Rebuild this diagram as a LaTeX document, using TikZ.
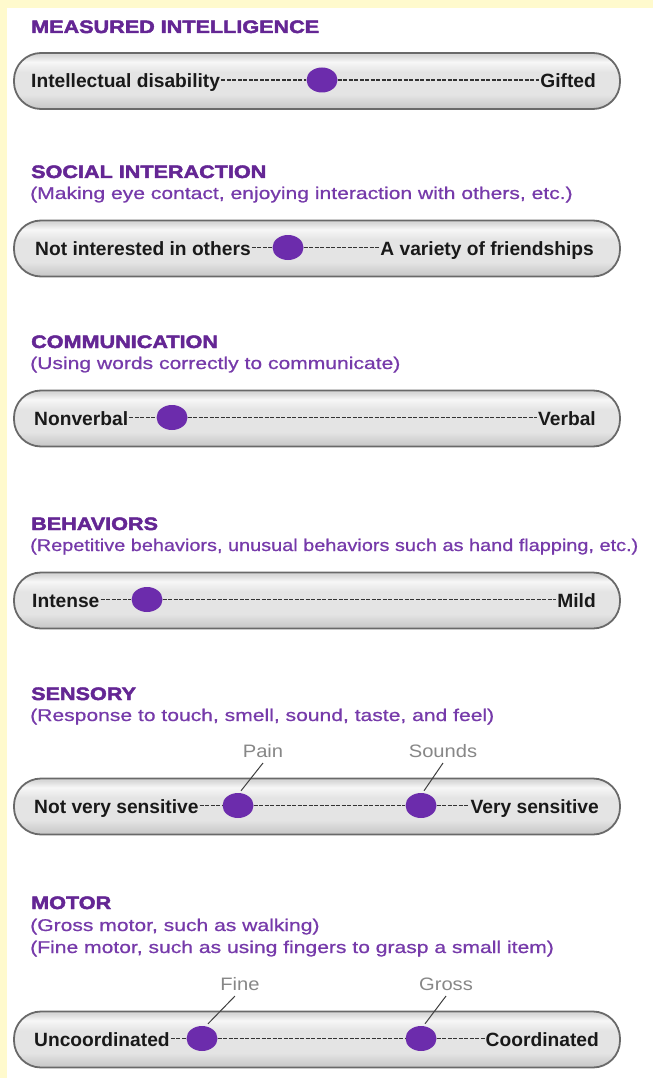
\documentclass[tikz,border=0pt]{standalone}
\usepackage{fontspec}
\setmainfont{Liberation Sans}
\newfontfamily\headfont{Liberation Sans}[FakeStretch=1.2,BoldFeatures={FakeBold=2.5}]
\newfontfamily\subfont{Liberation Sans}[FakeStretch=1.24,FakeBold=0.8]
\newfontfamily\subfontnarrow{Liberation Sans}[FakeStretch=1.17,FakeBold=0.8]
\newfontfamily\tagfont{Liberation Sans}[FakeStretch=1.12]
\usetikzlibrary{shapes.geometric}

\definecolor{bgyellow}{RGB}{255,250,205}
\definecolor{titlepurple}{RGB}{100,38,148}
\definecolor{subpurple}{RGB}{118,58,170}
\definecolor{knobpurple}{RGB}{108,44,172}
\definecolor{pillline}{RGB}{105,105,105}
\definecolor{pillD}{RGB}{202,202,202}
\definecolor{pillM}{RGB}{228,228,228}
\definecolor{pillH}{RGB}{247,247,247}
\definecolor{pillT}{RGB}{216,216,216}
\definecolor{taggray}{RGB}{135,135,135}
\definecolor{labelblack}{RGB}{25,25,25}

% glossy fill of the scale bars (positions measured from the bottom)
\pgfdeclareverticalshading{pillshade}{100bp}{%
  color(0bp)=(pillD); color(27bp)=(pillD); color(38bp)=(pillM);
  color(58bp)=(pillM); color(67bp)=(pillH); color(73bp)=(pillT); color(100bp)=(pillT)}

\tikzset{
  pill/.style={draw=pillline, line width=1.8pt, rounded corners=27pt, shading=pillshade,
    minimum width=606pt, minimum height=56pt, inner sep=0pt},
  title/.style={anchor=base west, inner sep=0pt, text=titlepurple,
    font=\headfont\bfseries\fontsize{18}{20}\selectfont},
  sub/.style={anchor=base west, inner sep=0pt, text=subpurple,
    font=\subfont\fontsize{17}{20}\selectfont},
  subnarrow/.style={sub, font=\subfontnarrow\fontsize{17}{20}\selectfont},
  lab/.style={inner sep=1pt, text=labelblack, font=\bfseries\fontsize{19.2}{22}\selectfont},
  leftlab/.style={lab, anchor=base west},
  rightlab/.style={lab, anchor=base east},
  knob/.style={ellipse, fill=knobpurple, minimum width=31pt, minimum height=25pt, inner sep=0pt},
  track/.style={draw=black!80, line width=1.3pt, dash pattern=on 4pt off 1.5pt},
  tag/.style={anchor=base, inner sep=0pt, text=taggray, font=\tagfont\fontsize{18}{20}\selectfont},
  leader/.style={draw=black!75, line width=1pt}
}

\begin{document}
\begin{tikzpicture}[x=1pt,y=-1pt]
\useasboundingbox (0,0) rectangle (653,1078);
\fill[white] (0,0) rectangle (653,1078);
\fill[bgyellow] (0,0) rectangle (653,8);
\fill[bgyellow] (0,0) rectangle (7,1078);

% ---- Measured intelligence
\node[title] (t1) at (31,33) {MEASURED INTELLIGENCE};
\node[pill] (p1) at (317,81) {};
\node[leftlab] (l1) at (30,88) {Intellectual disability};
\node[rightlab] (r1) at (597,88) {Gifted};
\node[knob] (k1) at (322,80) {};
\draw[track] (l1.east |- k1.center) -- (k1.west);
\draw[track] (k1.east) -- (r1.west |- k1.center);

% ---- Social interaction
\node[title] (t2) at (31,178) {SOCIAL INTERACTION};
\node[sub] (s2) at (30,199) {(Making eye contact, enjoying interaction with others, etc.)};
\node[pill] (p2) at (317,248.5) {};
\node[leftlab] (l2) at (34,255.5) {Not interested in others};
\node[rightlab] (r2) at (595,255.5) {A variety of friendships};
\node[knob] (k2) at (288,247.5) {};
\draw[track] (l2.east |- k2.center) -- (k2.west);
\draw[track] (k2.east) -- (r2.west |- k2.center);

% ---- Communication
\node[title] (t3) at (31,348) {COMMUNICATION};
\node[sub] (s3) at (30,369) {(Using words correctly to communicate)};
\node[pill] (p3) at (317,418.5) {};
\node[leftlab] (l3) at (33,425.5) {Nonverbal};
\node[rightlab] (r3) at (597,425.5) {Verbal};
\node[knob] (k3) at (172,417.5) {};
\draw[track] (l3.east |- k3.center) -- (k3.west);
\draw[track] (k3.east) -- (r3.west |- k3.center);

% ---- Behaviors
\node[title] (t4) at (31,530) {BEHAVIORS};
\node[subnarrow] (s4) at (30,551) {(Repetitive behaviors, unusual behaviors such as hand flapping, etc.)};
\node[pill] (p4) at (317,600.5) {};
\node[leftlab] (l4) at (31,607.5) {Intense};
\node[rightlab] (r4) at (597,607.5) {Mild};
\node[knob] (k4) at (147,599.5) {};
\draw[track] (l4.east |- k4.center) -- (k4.west);
\draw[track] (k4.east) -- (r4.west |- k4.center);

% ---- Sensory
\node[title] (t5) at (31,700) {SENSORY};
\node[sub] (s5) at (30,721) {(Response to touch, smell, sound, taste, and feel)};
\node[tag] (g5a) at (263,757) {Pain};
\node[tag] (g5b) at (443,757) {Sounds};
\node[pill] (p5) at (317,806.5) {};
\node[leftlab] (l5) at (33,813.5) {Not very sensitive};
\node[rightlab] (r5) at (600,813.5) {Very sensitive};
\node[knob] (k5a) at (238,805.5) {};
\node[knob] (k5b) at (421,805.5) {};
\draw[track] (l5.east |- k5a.center) -- (k5a.west);
\draw[track] (k5a.east) -- (k5b.west);
\draw[track] (k5b.east) -- (r5.west |- k5b.center);
\draw[leader] ([yshift=-6pt]g5a.base) -- ([xshift=3pt,yshift=2pt]k5a.north);
\draw[leader] ([yshift=-6pt]g5b.base) -- ([xshift=3pt,yshift=2pt]k5b.north);

% ---- Motor
\node[title] (t6) at (31,909) {MOTOR};
\node[sub] (s6a) at (30,931) {(Gross motor, such as walking)};
\node[sub] (s6b) at (30,953) {(Fine motor, such as using fingers to grasp a small item)};
\node[tag] (g6a) at (240,990) {Fine};
\node[tag] (g6b) at (446,990) {Gross};
\node[pill] (p6) at (317,1039.5) {};
\node[leftlab] (l6) at (33,1046.5) {Uncoordinated};
\node[rightlab] (r6) at (600,1046.5) {Coordinated};
\node[knob] (k6a) at (202,1038.5) {};
\node[knob] (k6b) at (421,1038.5) {};
\draw[track] (l6.east |- k6a.center) -- (k6a.west);
\draw[track] (k6a.east) -- (k6b.west);
\draw[track] (k6b.east) -- (r6.west |- k6b.center);
\draw[leader] ([xshift=-5pt,yshift=-6pt]g6a.base) -- ([xshift=6pt,yshift=2pt]k6a.north);
\draw[leader] ([yshift=-6pt]g6b.base) -- ([xshift=4pt,yshift=2pt]k6b.north);
\end{tikzpicture}
\end{document}
